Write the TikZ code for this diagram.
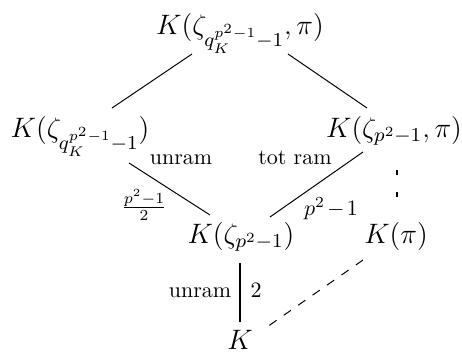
\documentclass[tikz,border=0pt]{standalone}
\usepackage{fix-cm}
\usepackage{amsmath}
\usepackage{tikz}
\usetikzlibrary{positioning, calc}

\begin{document}
\begin{tikzpicture}[
		x=0.016cm, y=-0.016cm,
		field/.style={inner sep=0pt, anchor=base, font=\fontsize{12.8}{15}\selectfont},
		lbl/.style={inner sep=0pt, anchor=base},
		edge/.style={line width=0.45pt},
		strong/.style={line width=0.9pt},
		dashedge/.style={line width=0.45pt, dash pattern=on 4pt off 4pt},
		dashshort/.style={line width=0.9pt, dash pattern=on 2.3pt off 7.7pt}
		]
		\useasboundingbox (0,0) rectangle (462,355);
		% Fields of the tower
		\node[field] (top) at (240,34) {$K(\zeta_{q_K^{p^2-1}-1},\pi)$};
		\node[field] (left) at (80,137) {$K(\zeta_{q_K^{p^2-1}-1})$};
		\node[field] (right) at (394,137) {$K(\zeta_{p^2-1},\pi)$};
		\node[field] (mid) at (241,243) {$K(\zeta_{p^2-1})$};
		\node[field] (kpi) at (396,243) {$K(\pi)$};
		\node[field] (base) at (240,350) {$K$};
		% Inclusions
		\draw[edge] ([shift={(-48,20)}]top.base) -- ([shift={(32,-29)}]left.base);
		\draw[edge] ([shift={(48,20)}]top.base) -- ([shift={(-27,-29)}]right.base);
		\draw[edge] ([shift={(49,26)}]left.base) -- ([shift={(-31,-28)}]mid.base);
		\draw[edge] ([shift={(-31,15)}]right.base) -- ([shift={(29,-26)}]mid.base);
		\draw[strong] ([shift={(-1,20)}]mid.base) -- ([shift={(0,-28)}]base.base);
		\draw[dashshort] ([shift={(3,33)}]right.base) -- ([shift={(1,-46)}]kpi.base);
		\draw[dashedge] ([shift={(-33,17)}]kpi.base) -- ([shift={(27,-23)}]base.base);
		% Labels
		\node[lbl] (l1) at (181,164) {unram};
		\node[lbl] (l2) at (295,164) {tot ram};
		\node[lbl] (l3) at (144,213) {$\frac{p^2-1}{2}$};
		\node[lbl] (l4) at (331,215) {$p^2\mkern2mu{-}\mkern2mu1$};
		\node[lbl] (l5) at (200,297) {unram};
		\node[lbl] (l6) at (256,297) {$2$};
\end{tikzpicture}
\end{document}
